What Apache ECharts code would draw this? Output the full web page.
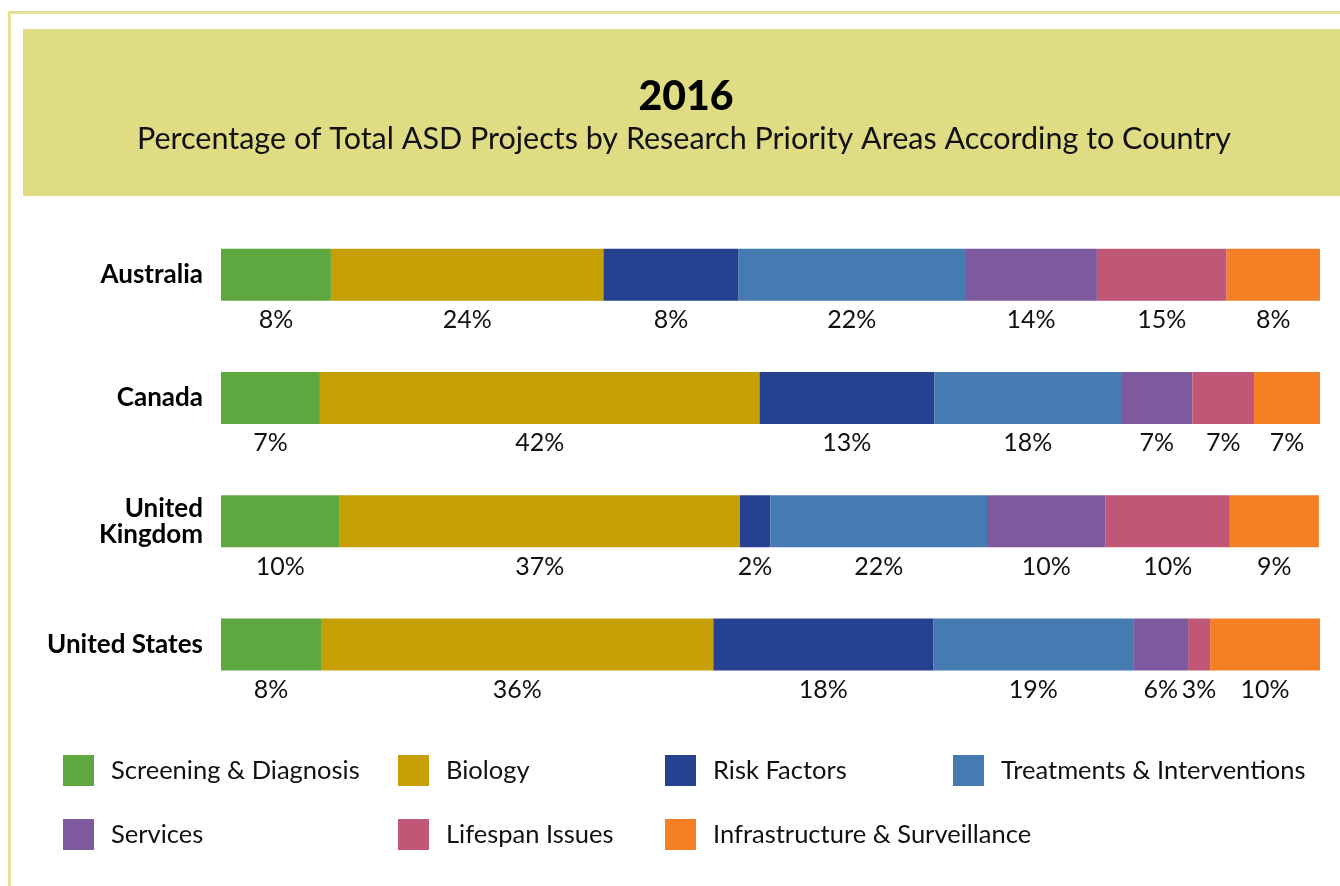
<!DOCTYPE html>
<html>
<head>
<meta charset="utf-8">
<title>2016 ASD Projects by Research Priority Area</title>
<script src="https://cdn.jsdelivr.net/npm/echarts@6/dist/echarts.min.js"></script>
<style>
  html, body { margin: 0; padding: 0; background: #fff; }
  #chart { width: 1340px; height: 886px; }
</style>
</head>
<body>
<div id="chart"></div>
<script>
const countries = ["Australia", "Canada", "United\nKingdom", "United States"];
const areas = [
  "Screening & Diagnosis",
  "Biology",
  "Risk Factors",
  "Treatments & Interventions",
  "Services",
  "Lifespan Issues",
  "Infrastructure & Surveillance",
];

// drawn segment lengths (share of each bar, %)
const screening = [10.0, 9.0, 10.8, 9.1];
const biology = [24.8, 40.0, 36.4, 35.7];
const riskFactors = [12.3, 15.9, 2.8, 20.0];
const treatments = [20.6, 17.0, 19.7, 18.2];
const services = [12.0, 6.5, 10.8, 5.0];
const lifespan = [11.8, 5.6, 11.3, 2.0];
const infrastructure = [8.5, 6.0, 8.1, 10.0];

// percentages printed under the segments
const screeningPct = [8, 7, 10, 8];
const biologyPct = [24, 42, 37, 36];
const riskFactorsPct = [8, 13, 2, 18];
const treatmentsPct = [22, 18, 22, 19];
const servicesPct = [14, 7, 10, 6];
const lifespanPct = [15, 7, 10, 3];
const infrastructurePct = [8, 7, 9, 10];

const colors = ["#5fa83f", "#c59f05", "#26418f", "#467bb1", "#7d5a9e", "#c05776", "#f47f25"];

const values = [screening, biology, riskFactors, treatments, services, lifespan, infrastructure];
const printed = [screeningPct, biologyPct, riskFactorsPct, treatmentsPct, servicesPct, lifespanPct, infrastructurePct];

const font = "Lato, 'Open Sans', sans-serif";

// legend slots (two rows)
const legendPos = [
  [63, 755], [398, 755], [665, 755], [953, 755],
  [63, 819], [398, 819], [665, 819],
];

const myChart = echarts.init(document.getElementById("chart"));

myChart.setOption({
  animation: false,
  color: colors,
  graphic: [
    {
      type: "rect",
      shape: { x: 9.5, y: 12.5, width: 1340, height: 886 },
      style: { fill: "none", stroke: "#e4e095", lineWidth: 3 },
      z: -10,
    },
    {
      type: "rect",
      shape: { x: 23, y: 29, width: 1317, height: 167 },
      style: { fill: "#e0dc84" },
      z: -9,
    },
  ],
  title: [
    {
      text: "2016",
      left: 681,
      top: 71,
      textAlign: "center",
      textStyle: { fontFamily: font, fontSize: 41, fontWeight: 900, color: "#000" },
    },
    {
      text: "Percentage of Total ASD Projects by Research Priority Areas According to Country",
      left: 679,
      top: 119,
      textAlign: "center",
      textStyle: { fontFamily: font, fontSize: 30.5, fontWeight: "normal", color: "#111" },
    },
  ],
  legend: areas.map((name, i) => ({
    data: [name],
    left: legendPos[i][0],
    top: legendPos[i][1],
    padding: 0,
    icon: "rect",
    itemWidth: 31,
    itemHeight: 31,
    selectedMode: false,
    textStyle: { fontFamily: font, fontSize: 25.5, color: "#111", padding: [0, 0, 0, 12] },
  })),
  grid: {
    left: 221,
    right: 20,
    top: 213,
    height: 493,
  },
  xAxis: {
    type: "value",
    min: 0,
    max: 100,
    show: false,
  },
  yAxis: {
    type: "category",
    data: countries,
    inverse: true,
    axisLine: { show: false },
    axisTick: { show: false },
    splitLine: { show: false },
    axisLabel: {
      margin: 18,
      fontFamily: font,
      fontSize: 26,
      fontWeight: "bold",
      color: "#000",
      lineHeight: 26,
      padding: [10, 0, 0, 0],
      align: "right",
    },
  },
  series: areas.map((name, i) => ({
    name: name,
    type: "bar",
    stack: "total",
    barWidth: 52,
    data: values[i],
    itemStyle: { color: colors[i] },
    label: {
      show: true,
      position: "bottom",
      distance: 7,
      fontFamily: font,
      fontSize: 25,
      color: "#111",
      formatter: (p) => printed[i][p.dataIndex] + "%",
    },
  })),
});
</script>
</body>
</html>
